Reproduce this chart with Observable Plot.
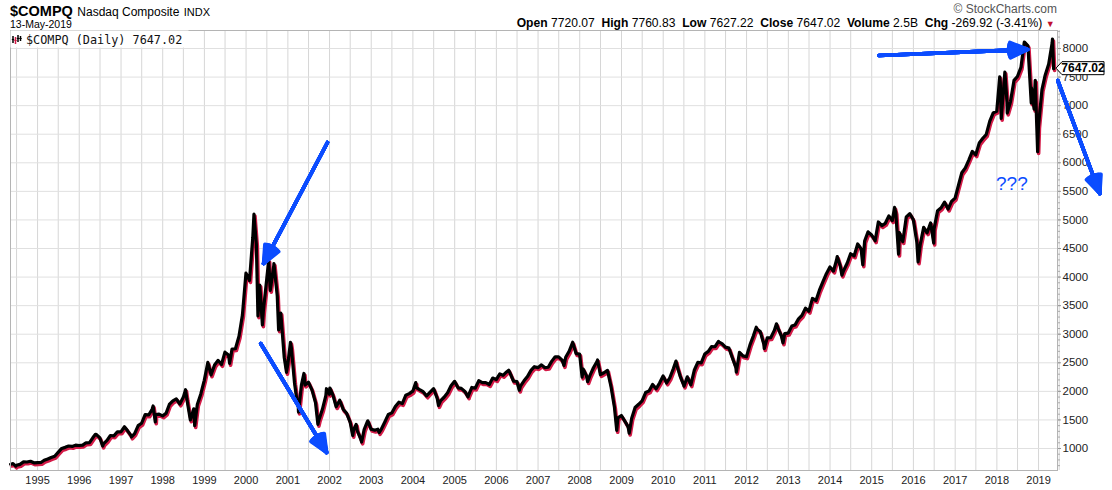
<!DOCTYPE html>
<html><head><meta charset="utf-8">
<script src="https://cdn.jsdelivr.net/npm/d3@7"></script>
<script src="https://cdn.jsdelivr.net/npm/@observablehq/plot@0.6"></script>
<style>
body{margin:0;background:#fff;}
#wrap{position:relative;width:1112px;height:490px;font-family:Arial,"Liberation Sans",sans-serif;overflow:hidden;}
.h{position:absolute;white-space:nowrap;color:#000;line-height:1;}
</style></head><body><div id="wrap"></div>
<script>
// ---- data ----
const firstMonth = [1994, 5]; // May 1994, month-end closes follow
const monthlyCloses = [
  735, 706, 722, 765, 764, 777, 750, 752,                         // 1994 May-Dec
  755, 794, 817, 843, 865, 933, 1001, 1020, 1044, 1036, 1059, 1052, // 1995
  1060, 1100, 1101, 1191, 1243, 1185, 1081, 1142, 1227, 1222, 1293, 1291, // 1996
  1380, 1309, 1222, 1261, 1400, 1442, 1594, 1587, 1686, 1594, 1601, 1570, // 1997
  1619, 1771, 1835, 1869, 1779, 1895, 1873, 1499, 1694, 1771, 1950, 2193, // 1998
  2506, 2288, 2461, 2543, 2471, 2686, 2638, 2739, 2746, 2966, 3336, 4069, // 1999
  3940, 4697, 4573, 3861, 3401, 3966, 3767, 4206, 3673, 3370, 2598, 2471, // 2000
  2773, 2152, 1840, 2116, 2110, 2161, 2027, 1805, 1499, 1690, 1931, 1950, // 2001
  1934, 1731, 1845, 1688, 1616, 1463, 1328, 1315, 1172, 1330, 1479, 1336, // 2002
  1321, 1338, 1341, 1464, 1596, 1623, 1735, 1810, 1787, 1932, 1960, 2003, // 2003
  2066, 2030, 1994, 1920, 1987, 2048, 1887, 1838, 1897, 1975, 2097, 2175, // 2004
  2062, 2052, 1999, 1922, 2068, 2057, 2185, 2152, 2152, 2120, 2233, 2205, // 2005
  2306, 2281, 2340, 2323, 2179, 2172, 2091, 2184, 2258, 2367, 2432, 2415, // 2006
  2464, 2416, 2422, 2525, 2605, 2603, 2546, 2596, 2701, 2859, 2661, 2652, // 2007
  2390, 2271, 2279, 2413, 2523, 2293, 2326, 2368, 2092, 1721, 1536, 1577, // 2008
  1476, 1378, 1529, 1717, 1774, 1835, 1979, 2009, 2122, 2045, 2145, 2269, // 2009
  2147, 2238, 2398, 2461, 2257, 2109, 2255, 2114, 2369, 2507, 2498, 2653, // 2010
  2700, 2782, 2781, 2874, 2835, 2774, 2756, 2579, 2415, 2684, 2620, 2605, // 2011
  2814, 2967, 3092, 3046, 2827, 2935, 2940, 3067, 3116, 2977, 3010, 3020, // 2012
  3142, 3160, 3268, 3329, 3456, 3403, 3626, 3590, 3771, 3920, 4060, 4177, // 2013
  4104, 4308, 4199, 4115, 4243, 4408, 4370, 4580, 4493, 4631, 4792, 4736, // 2014
  4635, 4964, 4901, 4941, 5070, 4987, 5128, 4777, 4620, 5054, 5109, 5007, // 2015
  4614, 4558, 4870, 4775, 4948, 4843, 5162, 5213, 5312, 5189, 5324, 5383, // 2016
  5615, 5825, 5912, 6048, 6199, 6140, 6348, 6429, 6496, 6728, 6874, 6903, // 2017
  7411, 7273, 7063, 7066, 7442, 7510, 7672, 8110, 8046, 7306, 7331, 6635, // 2018
  7282, 7533, 7729, 8095                                          // 2019 Jan-Apr
];
// intra-month swing points
const swingDates = [
  "1994-05-10","1994-06-24","1996-05-22","1996-07-24","1997-04-02","1997-10-09","1997-10-28",
  "1998-07-20","1998-10-08","1999-08-10","2000-03-10","2000-04-14","2000-05-23","2000-07-17",
  "2000-09-01","2000-10-12","2000-12-20","2001-01-24","2001-03-22","2001-04-04","2001-05-22",
  "2001-09-21","2001-12-05","2002-01-04","2002-07-23","2002-08-22","2002-10-09","2002-12-02",
  "2003-03-11","2004-01-26","2004-08-12","2005-04-28","2006-04-19","2006-07-21","2007-08-16",
  "2008-01-22","2008-03-10","2008-06-05","2008-11-20","2009-03-09","2010-04-23","2010-07-02",
  "2011-05-02","2011-10-03","2012-03-26","2012-06-04","2012-09-19","2012-11-15","2014-03-05",
  "2014-04-15","2014-10-15","2015-07-20","2015-08-24","2016-02-11","2016-06-27","2018-01-26",
  "2018-02-08","2018-03-12","2018-04-02","2018-08-29","2018-10-29","2018-11-23","2018-12-03",
  "2018-12-24","2019-05-03","2019-05-13"
];
const swingValues = [
  725, 692, 1249, 1042, 1201, 1745, 1465,
  2028, 1400, 2490, 5100, 3321, 3164, 4289,
  4234, 3074, 2333, 2859, 1830, 1638, 2313,
  1423, 2046, 2059, 1229, 1423, 1114, 1484,
  1279, 2153, 1752, 1904, 2370, 2020, 2451,
  2250, 2169, 2549, 1316, 1268, 2530, 2091,
  2865, 2335, 3122, 2747, 3182, 2847, 4358,
  4034, 4215, 5219, 4400, 4266, 4594, 7505,
  6777, 7588, 6870, 8110, 7050, 6939, 7442,
  6193, 8164, 7647.02
];
const lastClose = 7647.02;
const quoteLabels = ["Open", "High", "Low", "Close", "Volume", "Chg"];
const quoteValues = ["7720.07", "7760.83", "7627.22", "7647.02", "2.5B", "-269.92 (-3.41%)"];
const yearTicks = d3.range(1995, 2020);
const priceTicks = d3.range(1000, 8001, 500);
// annotation arrows (decimal year, index level)
const arrowFromYear = [2001.95, 2000.35, 2015.17, 2019.46];
const arrowFromValue = [6355, 2837, 7878, 7440];
const arrowToYear = [2000.42, 2001.93, 2018.74, 2020.47];
const arrowToValue = [4237, 930, 7983, 5462];
const noteText = ["???"];
const noteYear = [2018.36];
const noteValue = [5637];

// ---- helpers ----
const yearToDate = v => { const y = Math.floor(v); return new Date(Date.UTC(y, 0, 1) + (v - y) * 365.25 * 864e5); };
const series = [];
monthlyCloses.forEach((v, i) => {
  const m = firstMonth[1] - 1 + i;
  series.push({date: new Date(Date.UTC(firstMonth[0], m + 1, 0)), value: v});
});
swingDates.forEach((d, i) => series.push({date: new Date(d + "T00:00:00Z"), value: swingValues[i]}));
series.sort((a, b) => a.date - b.date);

const arrows = arrowFromYear.map((_, i) => ({
  x1: yearToDate(arrowFromYear[i]), y1: arrowFromValue[i],
  x2: yearToDate(arrowToYear[i]), y2: arrowToValue[i]
}));
const notes = noteText.map((t, i) => ({text: t, x: yearToDate(noteYear[i]), y: noteValue[i]}));
const halfYears = [new Date(Date.UTC(1994, 6, 1))];
yearTicks.forEach(y => { halfYears.push(new Date(Date.UTC(y, 0, 1))); halfYears.push(new Date(Date.UTC(y, 6, 1))); });
const yearDates = yearTicks.map(y => new Date(Date.UTC(y, 0, 1)));

const blue = "#0b4cff";
const arrowMarks = [48, 42, 36, 30, 24, 18, 12, 6].map(a => Plot.arrow(arrows, {
  x1: "x1", y1: "y1", x2: "x2", y2: "y2", stroke: blue, strokeWidth: 3.6,
  headAngle: a, headLength: 8, strokeOpacity: 1
}));

const chart = Plot.plot({
  width: 1112, height: 490,
  marginLeft: 10, marginRight: 55, marginTop: 30, marginBottom: 20,
  style: {fontFamily: "Arial, 'Liberation Sans', sans-serif", background: "transparent", overflow: "visible"},
  x: {type: "utc", domain: [new Date("1994-05-09T00:00:00Z"), new Date("2019-06-16T00:00:00Z")]},
  y: {domain: [615, 8315]},
  marks: [
    Plot.gridX(halfYears, {stroke: "#d6d6d6", strokeOpacity: 1}),
    Plot.gridY(priceTicks, {stroke: "#e0e0e0", strokeOpacity: 1}),
    Plot.line(series, {x: "date", y: "value", stroke: "#d41a47", strokeWidth: 3.6, dx: 1, dy: 1.8}),
    Plot.line(series, {x: "date", y: "value", stroke: "#000", strokeWidth: 3.2}),
    Plot.frame({stroke: "#b4b4b4"}),
    Plot.axisX(yearDates, {tickSize: 0, tickPadding: 6, tickFormat: d3.utcFormat("%Y"), fontSize: 11, fill: "#222", label: null}),
    Plot.axisY(d3.range(700, 8301, 100), {anchor: "right", tickSize: 2, stroke: "#aaa", text: null, label: null}),
    Plot.axisY(priceTicks, {anchor: "right", tickSize: 3, tickPadding: 2, tickFormat: d => String(d), fontSize: 11.5, fill: "#222", stroke: "#999", label: null}),
    ...arrowMarks,
    Plot.text(notes, {x: "x", y: "y", text: "text", fill: blue, fontSize: 19})
  ]
});

const svg = d3.select(chart);
// legend box inside plot
const g = svg.append("g");
g.append("rect").attr("x", 10.5).attr("y", 30.5).attr("width", 178).attr("height", 17).attr("fill", "#fff");
[[13, 36, 43, "#000"], [15.5, 37, 44, "#d41a47"], [18, 35, 42, "#000"], [20.5, 36, 41, "#000"]].forEach(([x, a, b, c]) => {
  g.append("line").attr("x1", x).attr("x2", x).attr("y1", a).attr("y2", b).attr("stroke", c).attr("stroke-width", 1.5);
  g.append("line").attr("x1", x - 1.2).attr("x2", x + 1.2).attr("y1", (a + b) / 2).attr("y2", (a + b) / 2).attr("stroke", c).attr("stroke-width", 1);
});
g.append("text").attr("x", 26).attr("y", 44).attr("text-anchor", "start")
  .attr("font-family", "'DejaVu Sans Mono', monospace").attr("font-size", 11.8)
  .attr("fill", "#111").text("$COMPQ (Daily) " + lastClose.toFixed(2));
// last price tag
const ty = chart.scale("y").apply(lastClose);
const tx = 1056;
svg.append("path").attr("d", `M${tx},${ty}L${tx + 6},${ty - 6.5}H${tx + 48}V${ty + 6.5}H${tx + 6}Z`)
  .attr("fill", "#fff").attr("stroke", "#000").attr("stroke-width", 1);
svg.append("text").attr("x", tx + 27).attr("y", ty + 4.3).attr("text-anchor", "middle")
  .attr("font-family", "Arial, 'Liberation Sans', sans-serif").attr("font-weight", "bold").attr("font-size", 12)
  .text(lastClose.toFixed(2));

const wrap = document.getElementById("wrap");
wrap.appendChild(chart);
chart.style.position = "absolute"; chart.style.left = "0"; chart.style.top = "0";
const add = (html, css) => { const d = document.createElement("div"); d.className = "h"; d.innerHTML = html; Object.assign(d.style, css); wrap.appendChild(d); return d; };
add('<b style="font-size:14.5px">$COMPQ</b> <span style="font-size:12px">Nasdaq Composite</span> <span style="font-size:11px">INDX</span>', {left: "10px", top: "3px"});
add('13-May-2019', {left: "10px", top: "19px", fontSize: "10.5px"});
add('© StockCharts.com', {right: "55px", top: "3px", fontSize: "12px", color: "#555"});
const quote = add(quoteLabels.map((l, i) => `<b>${l}</b> ${quoteValues[i]}`).join(" &nbsp;") +
  ' <span style="color:#c0102f;font-size:9px">&#9660;</span>',
  {right: "57px", top: "17px", fontSize: "12px", transformOrigin: "right center"});
const qw = quote.getBoundingClientRect().width;
quote.style.transform = `scaleX(${538 / qw})`;
</script></body></html>
